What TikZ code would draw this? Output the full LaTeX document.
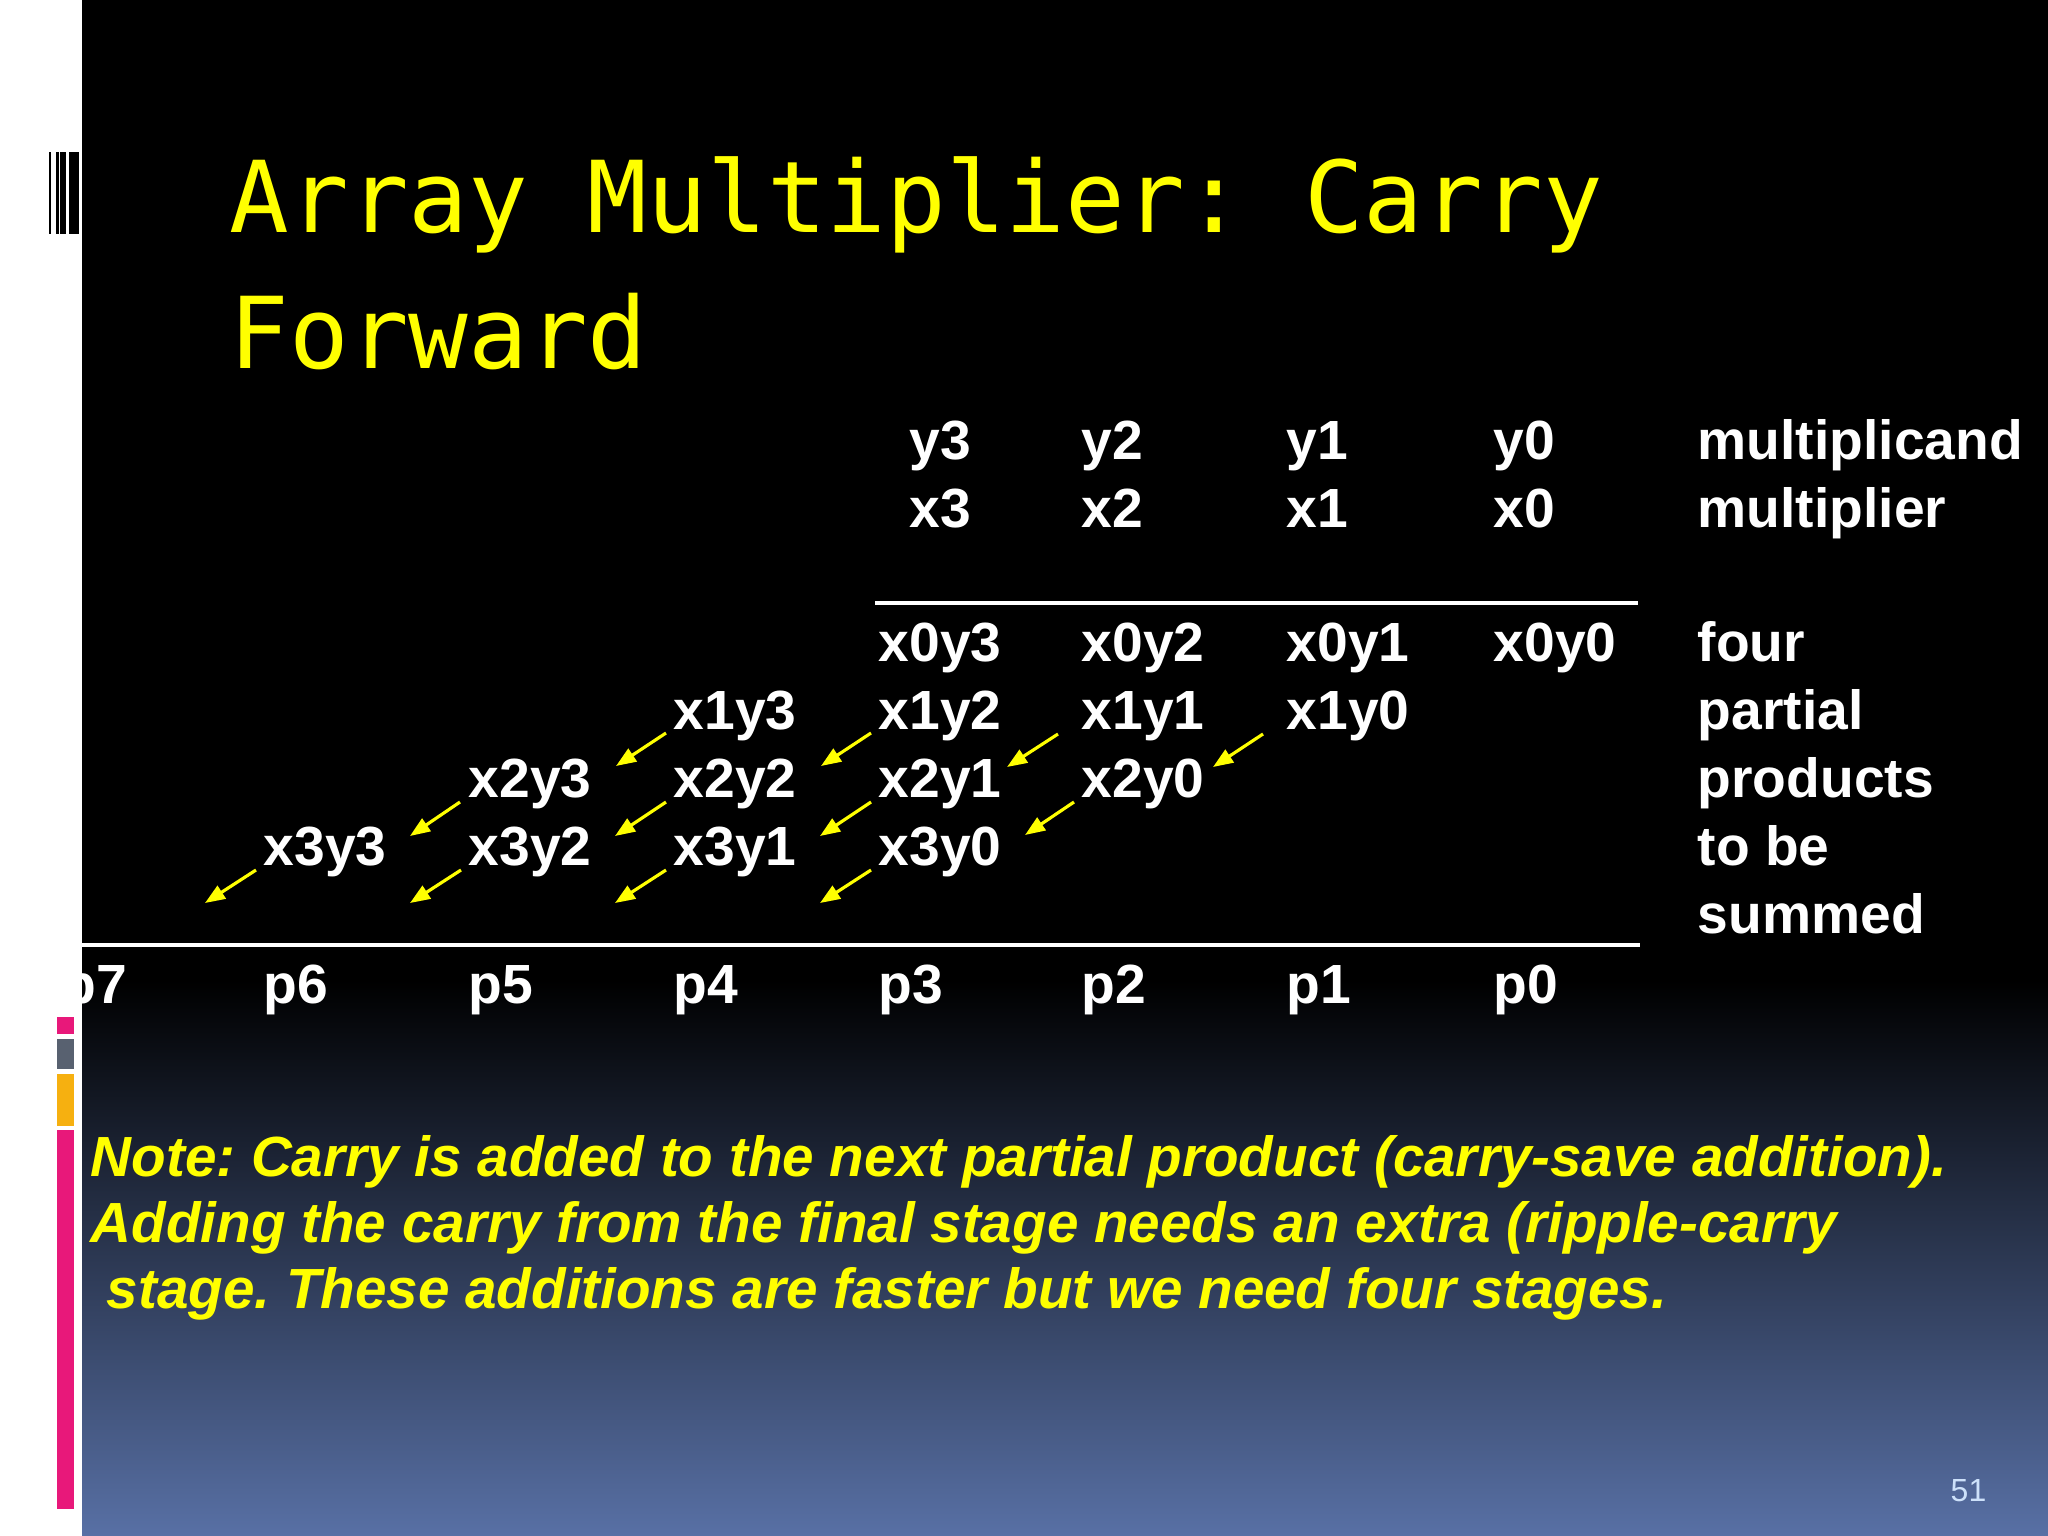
\documentclass[tikz,border=0pt]{standalone}
\usepackage{fontspec}
\setmainfont{Liberation Sans}
\newfontfamily\titlefont{DejaVu Sans Mono}
\usetikzlibrary{arrows.meta}
\frenchspacing
\definecolor{slideyellow}{RGB}{255,255,0}
\definecolor{slideblue}{RGB}{88,112,165}
\definecolor{barpink}{RGB}{232,24,122}
\definecolor{bargray}{RGB}{88,97,112}
\definecolor{barorange}{RGB}{246,176,16}
\definecolor{pagenum}{RGB}{205,225,250}
\tikzset{
  heading/.style={anchor=base west, inner sep=0pt, text=slideyellow, font=\titlefont\fontsize{28.2}{34}\selectfont},
  cell/.style={anchor=base west, inner sep=0pt, text=white, font=\fontsize{15.7}{18}\selectfont\bfseries},
  note/.style={anchor=base west, inner sep=0pt, text=slideyellow, font=\fontsize{16.1}{19}\selectfont\bfseries\itshape},
  carry/.style={slideyellow, line width=0.9pt, -{Triangle[length=0.2cm,width=0.15cm]}},
  rule/.style={white, line width=1.3pt}
}

\begin{document}
\begin{tikzpicture}[x=0.01cm, y=-0.01cm]
            \useasboundingbox (0,0) rectangle (2048,1536);
            % background
            \fill[black] (0,0) rectangle (2048,1536);
            \shade[top color=black, bottom color=slideblue] (0,980) rectangle (2048,1536);
            % title
            \node[heading] (T1) at (229,232){Array Multiplier: Carry};
            \node[heading] (T2) at (229,368){Forward};
            % operands
            \node[cell] (y3) at (909,459){y3};
            \node[cell] (y2) at (1081,459){y2};
            \node[cell] (y1) at (1286,459){y1};
            \node[cell] (y0) at (1493,459){y0};
            \node[cell] (x3) at (909,527){x3};
            \node[cell] (x2) at (1081,527){x2};
            \node[cell] (x1) at (1286,527){x1};
            \node[cell] (x0) at (1493,527){x0};
            \node[cell] (L1) at (1697,459){multiplicand};
            \node[cell] (L2) at (1697,527){multiplier};
            \draw[rule] (875,603) -- (1638,603);
            % partial products
            \node[cell] (x0y3) at (878,661){x0y3};
            \node[cell] (x0y2) at (1081,661){x0y2};
            \node[cell] (x0y1) at (1286,661){x0y1};
            \node[cell] (x0y0) at (1493,661){x0y0};
            \node[cell] (x1y3) at (673,729){x1y3};
            \node[cell] (x1y2) at (878,729){x1y2};
            \node[cell] (x1y1) at (1081,729){x1y1};
            \node[cell] (x1y0) at (1286,729){x1y0};
            \node[cell] (x2y3) at (468,797){x2y3};
            \node[cell] (x2y2) at (673,797){x2y2};
            \node[cell] (x2y1) at (878,797){x2y1};
            \node[cell] (x2y0) at (1081,797){x2y0};
            \node[cell] (x3y3) at (263,865){x3y3};
            \node[cell] (x3y2) at (468,865){x3y2};
            \node[cell] (x3y1) at (673,865){x3y1};
            \node[cell] (x3y0) at (878,865){x3y0};
            \node[cell] (L3) at (1697,661){four};
            \node[cell] (L4) at (1697,729){partial};
            \node[cell] (L5) at (1697,797){products};
            \node[cell] (L6) at (1697,865){to be};
            \node[cell] (L7) at (1697,933){summed};
            % carries
            \draw[carry] ([shift={(-7,4)}]x1y3.base west) -- ([shift={(148,-31)}]x2y3.base west);
            \draw[carry] ([shift={(-7,4)}]x1y2.base west) -- ([shift={(148,-31)}]x2y2.base west);
            \draw[carry] ([shift={(-23,5)}]x1y1.base west) -- ([shift={(129,-30)}]x2y1.base west);
            \draw[carry] ([shift={(-23,5)}]x1y0.base west) -- ([shift={(132,-30)}]x2y0.base west);
            \draw[carry] ([shift={(-8,5)}]x2y3.base west) -- ([shift={(147,-29)}]x3y3.base west);
            \draw[carry] ([shift={(-7,5)}]x2y2.base west) -- ([shift={(147,-29)}]x3y2.base west);
            \draw[carry] ([shift={(-7,5)}]x2y1.base west) -- ([shift={(147,-29)}]x3y1.base west);
            \draw[carry] ([shift={(-7,5)}]x2y0.base west) -- ([shift={(147,-30)}]x3y0.base west);
            \draw[carry] ([shift={(-7,5)}]x3y3.base west) -- ++(-51,33);
            \draw[carry] ([shift={(-7,5)}]x3y2.base west) -- ++(-51,33);
            \draw[carry] ([shift={(-7,5)}]x3y1.base west) -- ++(-51,33);
            \draw[carry] ([shift={(-7,5)}]x3y0.base west) -- ++(-51,33);
            \draw[rule] (62,945) -- (1640,945);
            % product bits
            \node[cell] (p7) at (62,1003){p7};
            \node[cell] (p6) at (263,1003){p6};
            \node[cell] (p5) at (468,1003){p5};
            \node[cell] (p4) at (673,1003){p4};
            \node[cell] (p3) at (878,1003){p3};
            \node[cell] (p2) at (1081,1003){p2};
            \node[cell] (p1) at (1286,1003){p1};
            \node[cell] (p0) at (1493,1003){p0};
            % note
            \node[note] (N1) at (90,1176){Note: Carry is added to the next partial product (carry-save addition).};
            \node[note] (N2) at (90,1242){Adding the carry from the final stage needs an extra (ripple-carry};
            \node[note] (N3) at (106,1308){stage. These additions are faster but we need four stages.};
            \node[anchor=base west, inner sep=0pt, text=pagenum, font=\fontsize{9.1}{11}\selectfont] (num) at (1950,1501){51};
            % left margin
            \fill[white] (0,0) rectangle (82,1536);
            \fill[black] (49,152) rectangle (51,234);
            \fill[black] (55.5,152) rectangle (58.5,234);
            \fill[black] (60,152) rectangle (66,234);
            \fill[black] (69,152) rectangle (79,234);
            \fill[barpink] (57,1017) rectangle (74,1034);
            \fill[bargray] (57,1039) rectangle (74,1069);
            \fill[barorange] (57,1074) rectangle (74,1126);
            \fill[barpink] (57,1130) rectangle (74,1509);
\end{tikzpicture}
\end{document}
